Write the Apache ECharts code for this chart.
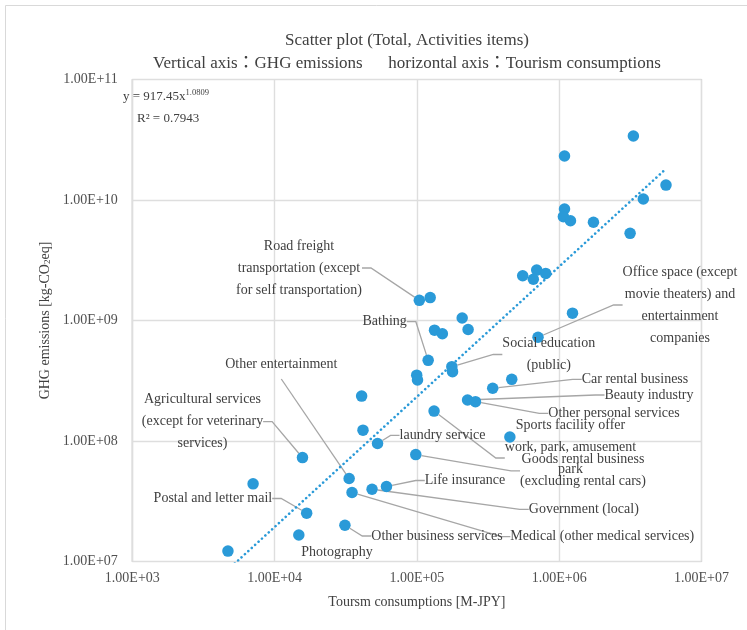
<!DOCTYPE html>
<html><head><meta charset="utf-8">
<script src="https://cdn.jsdelivr.net/npm/echarts@6/dist/echarts.min.js"></script>
<style>html,body{margin:0;padding:0;background:#fff}#c{width:747px;height:630px}</style>
</head><body><div id="c"></div>
<script>
// ---- data ----
const itemNames = [
  '', '', '', '', '', '', '', '', '', '', '', '', '', '',
  'Office space (except\nmovie theaters) and\nentertainment\ncompanies',
  'Road freight\ntransportation (except\nfor self transportation)',
  '', '', '', '', '',
  'Bathing',
  '', '',
  'Social education\n(public)',
  '', '',
  'Car rental business',
  '',
  'Beauty industry',
  'Other personal services',
  'work, park, amusement\npark',
  '',
  'laundry service',
  'Sports facility offer',
  'Agricultural services\n(except for veterinary\nservices)',
  '',
  'Other entertainment',
  'Medical (other medical services)',
  'Government (local)',
  'Life insurance',
  'Goods rental business\n(excluding rental cars)',
  'Postal and letter mail',
  'Other business services',
  'Photography',
  ''
];
const tourismConsumption = [
  3.32e6, 1.09e6, 5.63e6, 3.90e6, 1.09e6, 1.07e6, 1.20e6, 1.74e6, 3.15e6, 5.54e5,
  6.95e5, 6.58e5, 8.04e5, 1.24e6, 7.10e5, 1.04e5, 1.24e5, 2.08e5, 2.29e5, 1.33e5,
  1.51e5, 1.20e5, 9.97e4, 1.01e5, 1.76e5, 1.78e5, 4.09e4, 3.41e5, 4.64e5, 2.27e5,
  2.58e5, 1.32e5, 4.18e4, 5.29e4, 4.50e5, 1.57e4, 7.06e3, 3.34e4, 3.50e4, 4.84e4,
  6.11e4, 9.82e4, 1.68e4, 3.12e4, 1.48e4, 4.70e3
];
const ghgEmissions = [
  3.40e10, 2.32e10, 1.33e10, 1.02e10, 8.42e9, 7.27e9, 6.73e9, 6.53e9, 5.29e9, 2.35e9,
  2.62e9, 2.20e9, 2.46e9, 1.15e9, 7.26e8, 1.47e9, 1.55e9, 1.05e9, 8.42e8, 8.31e8,
  7.76e8, 4.67e8, 3.52e8, 3.21e8, 4.14e8, 3.76e8, 2.36e8, 2.74e8, 3.25e8, 2.19e8,
  2.12e8, 1.77e8, 1.23e8, 9.53e7, 1.08e8, 7.28e7, 4.41e7, 4.88e7, 3.74e7, 3.98e7,
  4.19e7, 7.71e7, 2.52e7, 2.00e7, 1.66e7, 1.22e7
];
const xAxisRange = [1e3, 1e7];
const yAxisRange = [1e7, 1e11];
const trendCoef = 917.45;
const trendExp = 1.0809;
const trendR2 = 0.7943;
const titleLine1 = 'Scatter plot (Total, Activities items)';
const titleLine2 = 'Vertical axis\uFF1AGHG emissions\u3000\u2002horizontal axis\uFF1ATourism consumptions';
const xAxisTitle = 'Toursm consumptions [M-JPY]';
const yAxisTitle = 'GHG emissions [kg-CO{sub|2}eq]';

// ---- layout (label placement, by data index) ----
const labelAt = {
  14: [680, 305], 15: [299, 268], 21: [384.7, 321.7], 24: [548.8, 354.5],
  27: [635, 379.3], 29: [649, 395], 30: [614, 413.3], 31: [570.5, 458],
  33: [442.5, 435.4], 34: [570.5, 425.7], 35: [202.5, 421.7], 37: [281.3, 364],
  38: [602.3, 536.7], 39: [583.8, 509.3], 40: [465, 480.5], 41: [583, 470.8],
  42: [212.9, 498.5], 43: [437, 536], 44: [337, 551.9]
};
const noLeader = { 34: true, 44: true };
// labels whose leader starts from the bottom centre of the text (drawn after layout)
const bottomLeader = { 37: 15 };

const SERIF = '"Liberation Serif", "Noto Sans CJK JP", serif';
const BLUE = '#2a9ad8';
const TEXT = '#404040';
const LEADER = { color: '#a6a6a6', width: 1.3 };

function sciLabel(v) {
  const e = Math.floor(Math.log10(v) + 1e-9);
  const m = v / Math.pow(10, e);
  return m.toFixed(2) + 'E' + (e < 0 ? '-' : '+') + String(Math.abs(e)).padStart(2, '0');
}

const scatterData = tourismConsumption.map((x, i) => {
  const name = itemNames[i];
  const item = { value: [x, ghgEmissions[i]], name: name };
  if (name) {
    item.label = { show: true };
    item.labelLine = { show: !noLeader[i] && bottomLeader[i] == null };
  }
  return item;
});

const xMin = Math.min(...tourismConsumption);
const xMax = Math.max(...tourismConsumption);
const trendData = [xMin, xMax].map(x => [x, trendCoef * Math.pow(x, trendExp)]);

const baseGraphic = [
  { id: 'frame', type: 'rect', z: -10, silent: true,
    shape: { x: 5.5, y: 5.5, width: 800, height: 700 },
    style: { fill: null, stroke: '#d9d9d9', lineWidth: 1 } },
  { id: 't1', type: 'text', x: 407, y: 40.5, style: { text: titleLine1, align: 'center', verticalAlign: 'middle',
    font: '17px ' + SERIF, fill: TEXT } },
  { id: 't2', type: 'text', x: 407, y: 64, style: { text: titleLine2, align: 'center', verticalAlign: 'middle',
    font: '17px ' + SERIF, fill: TEXT } },
  { id: 'eq', type: 'text', x: 123, y: 97, z: 10, style: {
    text: 'y = ' + trendCoef + 'x{sup|' + trendExp + '}', verticalAlign: 'middle',
    font: '13px ' + SERIF, fill: TEXT,
    rich: { sup: { fontSize: 8.5, fontFamily: SERIF, verticalAlign: 'top', fill: TEXT, padding: [0, 0, 8, 0] } } } },
  { id: 'r2', type: 'text', x: 137, y: 118.5, z: 10, style: {
    text: 'R\u00B2 = ' + trendR2, verticalAlign: 'middle', font: '13px ' + SERIF, fill: TEXT } }
];

const chart = echarts.init(document.getElementById('c'), null, { renderer: 'canvas' });
chart.setOption({
  animation: false,
  backgroundColor: '#fff',
  textStyle: { fontFamily: SERIF },
  graphic: baseGraphic,
  grid: { left: 132.3, right: 45.5, top: 79.5, bottom: 68.5, containLabel: false,
          show: true, borderColor: '#c8c8c8', borderWidth: 1.2 },
  xAxis: {
    type: 'log', logBase: 10, min: xAxisRange[0], max: xAxisRange[1],
    name: xAxisTitle, nameLocation: 'middle', nameGap: 34,
    nameTextStyle: { fontFamily: SERIF, fontSize: 14, color: TEXT },
    axisLine: { show: false }, axisTick: { show: false },
    axisLabel: { formatter: sciLabel, fontFamily: SERIF, fontSize: 14, color: '#505050', margin: 10 },
    splitLine: { show: true, lineStyle: { color: '#dedede', width: 1.4 } },
    minorSplitLine: { show: false }
  },
  yAxis: {
    type: 'log', logBase: 10, min: yAxisRange[0], max: yAxisRange[1],
    name: yAxisTitle, nameLocation: 'middle', nameGap: 80, nameRotate: 90,
    nameTextStyle: { fontFamily: SERIF, fontSize: 14, color: TEXT,
      rich: { sub: { fontSize: 9, fontFamily: SERIF, color: TEXT, verticalAlign: 'bottom', padding: [5, 0, 0, 0] } } },
    axisLine: { show: false }, axisTick: { show: false },
    axisLabel: { formatter: sciLabel, fontFamily: SERIF, fontSize: 14, color: '#505050', margin: 14.5 },
    splitLine: { show: true, lineStyle: { color: '#dedede', width: 1.4 } }
  },
  series: [
    {
      type: 'scatter', name: 'Activities items',
      data: scatterData,
      symbol: 'circle', symbolSize: 11.5,
      itemStyle: { color: BLUE, opacity: 1 },
      label: { show: false, formatter: '{b}', fontFamily: SERIF, fontSize: 14, color: TEXT,
               lineHeight: 22, align: 'center', verticalAlign: 'middle' },
      labelLine: { show: true, length2: 9, lineStyle: LEADER },
      labelLayout: function (p) {
        const pos = labelAt[p.dataIndex];
        if (!pos) return {};
        return { x: pos[0], y: pos[1], align: 'center', verticalAlign: 'middle' };
      },
      emphasis: { disabled: true },
      z: 3
    },
    {
      type: 'line', name: 'Power trendline', data: trendData,
      showSymbol: false, symbol: 'none', silent: true,
      lineStyle: { color: BLUE, width: 2.6, type: [0.01, 4.6], cap: 'round' },
      z: 4
    }
  ]
});

// leader lines that start below the label text: end point from the chart's own scales
const extra = Object.keys(bottomLeader).map(k => {
  const i = +k;
  const pt = chart.convertToPixel({ seriesIndex: 0 }, [tourismConsumption[i], ghgEmissions[i]]);
  const start = [labelAt[i][0], labelAt[i][1] + bottomLeader[i]];
  return { id: 'lead' + i, type: 'line', z: 2, silent: true,
    shape: { x1: start[0], y1: start[1], x2: pt[0], y2: pt[1] },
    style: { stroke: LEADER.color, lineWidth: LEADER.width } };
});
chart.setOption({ graphic: baseGraphic.concat(extra) });
</script></body></html>
